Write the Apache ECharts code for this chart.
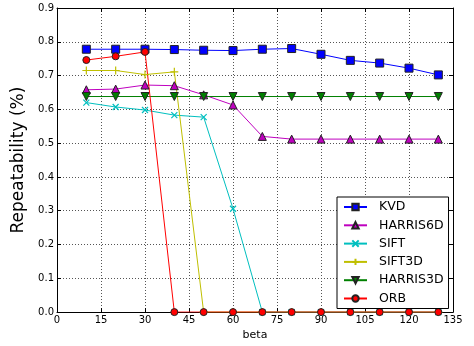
<!DOCTYPE html>
<html>
<head>
<meta charset="utf-8">
<script src="https://cdn.jsdelivr.net/npm/echarts@6/dist/echarts.min.js"></script>
<style>
  html, body { margin: 0; padding: 0; background: #fff; }
  #chart { width: 474px; height: 346px; }
</style>
</head>
<body>
<div id="chart"></div>
<script>
const betas = [10, 20, 30, 40, 50, 60, 70, 80, 90, 100, 110, 120, 130];
const kvd = [0.778, 0.778, 0.778, 0.777, 0.775, 0.774, 0.778, 0.78, 0.763, 0.745, 0.737, 0.722, 0.702];
const harris6d = [0.658, 0.66, 0.672, 0.67, 0.643, 0.613, 0.52, 0.512, 0.512, 0.512, 0.512, 0.512, 0.512];
const sift = [0.62, 0.607, 0.598, 0.583, 0.577, 0.306, 0, 0, 0, 0, 0, 0, 0];
const sift3d = [0.715, 0.715, 0.703, 0.711, 0, 0, 0, 0, 0, 0, 0, 0, 0];
const harris3d = [0.638, 0.638, 0.638, 0.638, 0.638, 0.638, 0.638, 0.638, 0.638, 0.638, 0.638, 0.638, 0.638];
const orb = [0.746, 0.757, 0.77, 0, 0, 0, 0, 0, 0, 0, 0, 0, 0];

const FONT = 'DejaVu Sans';
const pairs = vals => betas.map((b, i) => [b, vals[i]]);

const mkSeries = (name, vals, color, symbol, size, extra) => Object.assign({
  name,
  type: 'line',
  data: pairs(vals),
  symbol,
  symbolSize: size,
  showSymbol: true,
  lineStyle: { color, width: 1 },
  itemStyle: { color, borderColor: '#222', borderWidth: 1 },
  emphasis: { disabled: true },
  animation: false
}, extra || {});

const chart = echarts.init(document.getElementById('chart'));
const option = {
  animation: false,
  grid: { left: 57, right: 21, top: 8, bottom: 31 },
  legend: {
    orient: 'vertical',
    left: 337,
    top: 197,
    padding: [3, 5, 3, 6],
    itemWidth: 23,
    itemHeight: 8,
    itemGap: 4.3,
    backgroundColor: '#fff',
    borderColor: '#000',
    borderWidth: 1,
    borderRadius: 0,
    textStyle: { fontFamily: FONT, fontSize: 12.5, lineHeight: 14, color: '#000', padding: [0, 0, 0, 7] },
    data: ['KVD', 'HARRIS6D', 'SIFT', 'SIFT3D', 'HARRIS3D', 'ORB']
  },
  xAxis: [
    {
      type: 'value',
      min: 0,
      max: 135,
      interval: 15,
      name: 'beta',
      nameLocation: 'middle',
      nameGap: 15,
      nameTextStyle: { fontFamily: FONT, fontSize: 11, color: '#000' },
      axisLine: { show: true, onZero: false, lineStyle: { color: '#000', width: 1 } },
      axisTick: { show: true, inside: true, length: 4, lineStyle: { color: '#000' } },
      axisLabel: { fontFamily: FONT, fontSize: 10, color: '#000', margin: 3 },
      splitLine: { show: true, lineStyle: { color: '#555', type: [1, 2], width: 1 } }
    },
    {
      type: 'value',
      position: 'top',
      min: 0,
      max: 135,
      interval: 15,
      axisLine: { show: true, onZero: false, lineStyle: { color: '#000', width: 1 } },
      axisTick: { show: true, inside: true, length: 4, lineStyle: { color: '#000' } },
      axisLabel: { show: false },
      splitLine: { show: false }
    }
  ],
  yAxis: [
    {
      type: 'value',
      min: 0,
      max: 0.9,
      interval: 0.1,
      name: 'Repeatability (%)',
      nameLocation: 'middle',
      nameGap: 29,
      nameTextStyle: { fontFamily: FONT, fontSize: 17, color: '#000' },
      axisLine: { show: true, onZero: false, lineStyle: { color: '#000', width: 1 } },
      axisTick: { show: true, inside: true, length: 4, lineStyle: { color: '#000' } },
      axisLabel: { fontFamily: FONT, fontSize: 10, color: '#000', margin: 3, formatter: v => v.toFixed(1) },
      splitLine: { show: true, lineStyle: { color: '#555', type: [1, 2], width: 1 } }
    },
    {
      type: 'value',
      position: 'right',
      min: 0,
      max: 0.9,
      interval: 0.1,
      axisLine: { show: true, onZero: false, lineStyle: { color: '#000', width: 1 } },
      axisTick: { show: true, inside: true, length: 4, lineStyle: { color: '#000' } },
      axisLabel: { show: false },
      splitLine: { show: false }
    }
  ],
  series: [
    mkSeries('KVD', kvd, '#0000ff', 'rect', 8),
    mkSeries('HARRIS6D', harris6d, '#bf00bf', 'triangle', 8),
    mkSeries('SIFT', sift, '#00bfbf', 'path://M0,0L10,10M10,0L0,10', 6,
      { itemStyle: { color: '#00bfbf', borderColor: '#00bfbf', borderWidth: 1.2 } }),
    mkSeries('SIFT3D', sift3d, '#bfbf00', 'path://M5,0L5,10M0,5L10,5', 8,
      { itemStyle: { color: '#bfbf00', borderColor: '#bfbf00', borderWidth: 1.2 } }),
    mkSeries('HARRIS3D', harris3d, '#008000', 'triangle', 8, { symbolRotate: 180 }),
    mkSeries('ORB', orb, '#ff0000', 'circle', 7)
  ]
};
chart.setOption(option);
</script>
</body>
</html>
